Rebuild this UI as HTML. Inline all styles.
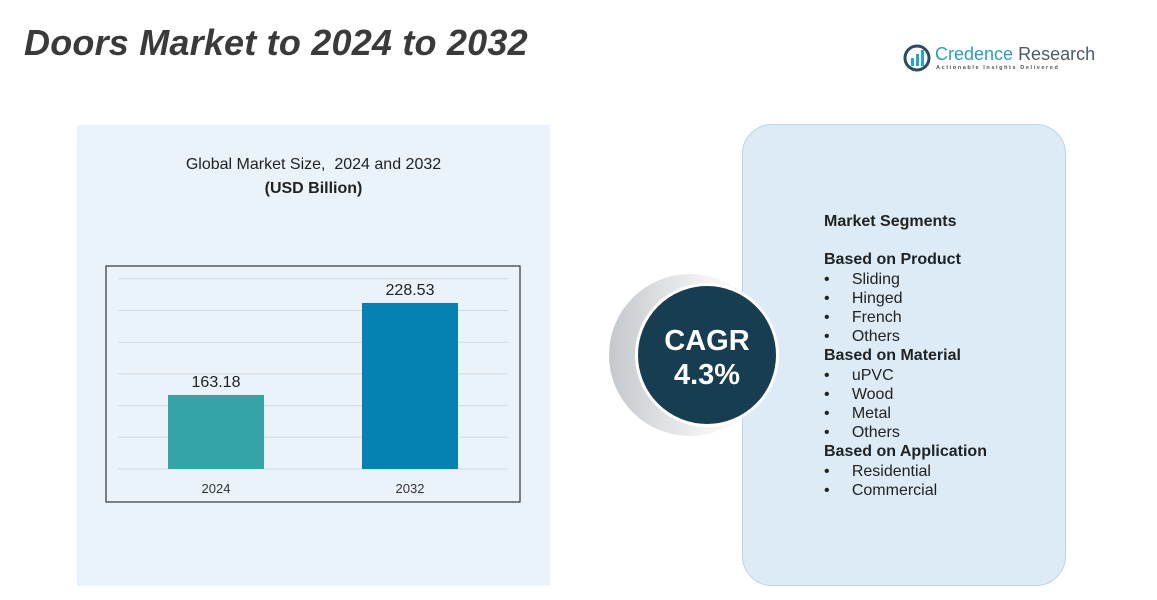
<!DOCTYPE html>
<html><head><meta charset="utf-8"><style>
body{margin:0;width:1157px;height:600px;background:#fff;position:relative;overflow:hidden;font-family:"Liberation Sans",sans-serif}
.abs{position:absolute}
</style></head><body>
<div class="abs" style="left:24px;top:22px;font-size:36px;font-weight:bold;font-style:italic;color:#3a3a3a;letter-spacing:0.2px">Doors Market to 2024 to 2032</div>
<div class="abs" style="left:903px;top:44px;width:190px;height:30px;white-space:nowrap">
 <svg width="28" height="28" style="position:absolute;left:0;top:0"><circle cx="14" cy="14" r="12" fill="none" stroke="#2b4a5e" stroke-width="3"/><rect x="8" y="14" width="3" height="8" fill="#29a3c7"/><rect x="13" y="10" width="3" height="12" fill="#29a3c7"/><rect x="18" y="6" width="3" height="16" fill="#29a3c7"/></svg>
 <div class="abs" style="left:32px;top:0;font-size:18px;color:#2a9dc4;white-space:nowrap">Credence <span style="color:#4a5c68">Research</span></div>
 <div class="abs" style="left:33px;top:21px;font-size:5.5px;letter-spacing:1.6px;color:#555;font-weight:bold;white-space:nowrap">Actionable Insights Delivered</div>
</div>
<div class="abs" style="left:77px;top:125px;width:473px;height:461px;background:#eaf3fa"></div>
<div class="abs" style="left:77px;top:153px;width:473px;text-align:center;font-size:16px;color:#222;line-height:24px">Global Market Size, &nbsp;2024 and 2032<br><b>(USD Billion)</b></div>
<svg class="abs" style="left:0;top:0" width="1157" height="600" id="chart"></svg>
<div class="abs" style="left:742px;top:124px;width:322px;height:460px;background:#dcebf5;border:1px solid #b9d6e8;border-radius:30px"></div>
<div class="abs" style="left:609px;top:274px;width:162px;height:162px;border-radius:50%;background:linear-gradient(90deg,#c4c8cc,#f3f3f3 60%,#fff)"></div>
<div class="abs" style="left:635px;top:283px;width:144px;height:144px;border-radius:50%;background:#173d50;border:3px solid #fff;box-sizing:border-box;color:#fff;text-align:center;font-weight:bold;font-size:29px;line-height:34px;padding-top:38px">CAGR<br>4.3%</div>
<div class="abs" style="left:824px;top:212px;font-size:16px;color:#222;line-height:19.2px">
<b>Market Segments</b><br><br>
<b>Based on Product</b><br>
•&nbsp;&nbsp;&nbsp;&nbsp;&nbsp;Sliding<br>•&nbsp;&nbsp;&nbsp;&nbsp;&nbsp;Hinged<br>•&nbsp;&nbsp;&nbsp;&nbsp;&nbsp;French<br>•&nbsp;&nbsp;&nbsp;&nbsp;&nbsp;Others<br>
<b>Based on Material</b><br>
•&nbsp;&nbsp;&nbsp;&nbsp;&nbsp;uPVC<br>•&nbsp;&nbsp;&nbsp;&nbsp;&nbsp;Wood<br>•&nbsp;&nbsp;&nbsp;&nbsp;&nbsp;Metal<br>•&nbsp;&nbsp;&nbsp;&nbsp;&nbsp;Others<br>
<b>Based on Application</b><br>
•&nbsp;&nbsp;&nbsp;&nbsp;&nbsp;Residential<br>•&nbsp;&nbsp;&nbsp;&nbsp;&nbsp;Commercial</div>
<script>
const categories=["2024","2032"];
const values=[163.18,228.53];
const valueLabels=["163.18","228.53"];
const yMin=110.6, yMax=235;
const svg=document.getElementById('chart');
const NS='http://www.w3.org/2000/svg';
const baseY=469, scale=1.408;
function y(v){return baseY-(v-yMin)*scale;}
const bx=[168,362], bw=96, colors=['#34a3a5','#0582b3'];
function mk(t,a){const e=document.createElementNS(NS,t);for(const k in a)e.setAttribute(k,a[k]);svg.appendChild(e);return e;}
const box=mk('rect',{x:106,y:266,width:414,height:236,fill:'none',stroke:'#333','stroke-width':1.2});


for(let i=0;i<7;i++){const l=mk('line',{x1:118,x2:508,y1:baseY-i*31.7,y2:baseY-i*31.7,stroke:'#d3dbe0','stroke-width':1});

}
categories.forEach((c,i)=>{
 const r=mk('rect',{x:bx[i],y:y(values[i]),width:bw,height:baseY-y(values[i]),fill:colors[i]});
 
 
 const t=mk('text',{x:bx[i]+bw/2,y:y(values[i])-8,'text-anchor':'middle','font-size':16,fill:'#222','font-family':'Liberation Sans'});t.textContent=valueLabels[i];
 
 
 const x=mk('text',{x:bx[i]+bw/2,y:493,'text-anchor':'middle','font-size':13,fill:'#333','font-family':'Liberation Sans'});x.textContent=c;
 
 
});
</script>
</body></html>
